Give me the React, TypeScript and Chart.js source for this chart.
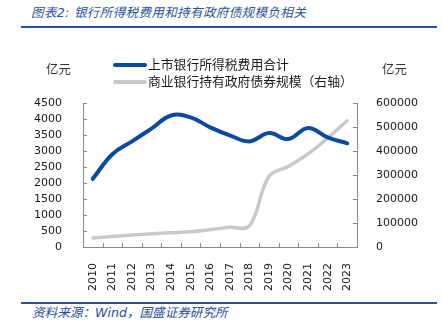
import React, { useEffect, useRef } from "react";
import { Chart, registerables } from "chart.js";

Chart.register(...registerables);

const years = ["2010", "2011", "2012", "2013", "2014", "2015", "2016", "2017", "2018", "2019", "2020", "2021", "2022", "2023"];
const taxExpense = [2130, 2900, 3300, 3700, 4110, 4050, 3740, 3490, 3300, 3560, 3375, 3720, 3425, 3240];
const govBonds = [38000, 44000, 50000, 55000, 59500, 63500, 72000, 82000, 88000, 294000, 336000, 388000, 454000, 526000];
const seriesNames = ["上市银行所得税费用合计", "商业银行持有政府债券规模（右轴）"];
const titleText = "图表2:  银行所得税费用和持有政府债规模负相关";
const sourceText = "资料来源：Wind，国盛证券研究所";
const unitText = "亿元";

const BLUE = "#0b4aa0";
const GRAY = "#c9c9c9";
const AXIS = "#8a8a8a";
const CJK = "'DejaVu Sans', 'Noto Sans CJK SC', sans-serif";

const innerTicks = {
  id: "innerTicks",
  beforeDatasetsDraw(chart: any) {
    const { ctx, chartArea: a, scales } = chart;
    ctx.save();
    ctx.strokeStyle = AXIS;
    ctx.lineWidth = 1;
    const line = (x1: number, y1: number, x2: number, y2: number) => {
      ctx.beginPath();
      ctx.moveTo(x1, y1);
      ctx.lineTo(x2, y2);
      ctx.stroke();
    };
    const y = scales.y;
    y.ticks.forEach((_: any, i: number) => {
      const py = Math.round(y.getPixelForTick(i)) + 0.5;
      line(a.left, py, a.left + 4, py);
    });
    const y1 = scales.y1;
    y1.ticks.forEach((_: any, i: number) => {
      const py = Math.round(y1.getPixelForTick(i)) + 0.5;
      line(a.right - 4, py, a.right, py);
    });
    const n = years.length;
    for (let i = 1; i < n; i++) {
      const px = Math.round(a.left + ((a.right - a.left) * i) / n) + 0.5;
      line(px, a.bottom, px, a.bottom - 4);
    }
    ctx.restore();
  },
};

export default function App() {
  const ref = useRef<HTMLCanvasElement>(null);

  useEffect(() => {
    if (!ref.current) return;
    const tickFont = { family: "'DejaVu Sans', sans-serif", size: 11 };
    const plain = (v: any) => String(v);
    const chart = new Chart(ref.current, {
      type: "line",
      data: {
        labels: years,
        datasets: [
          {
            label: seriesNames[0],
            data: taxExpense,
            yAxisID: "y",
            borderColor: BLUE,
            borderWidth: 4,
            pointRadius: 0,
            tension: 0.4,
            borderCapStyle: "round",
            fill: false,
          },
          {
            label: seriesNames[1],
            data: govBonds,
            yAxisID: "y1",
            borderColor: GRAY,
            borderWidth: 3.5,
            pointRadius: 0,
            tension: 0.4,
            borderCapStyle: "round",
            fill: false,
          },
        ],
      },
      options: {
        responsive: false,
        animation: false,
        layout: { padding: { top: 103, left: 0, right: 0, bottom: 0 } },
        plugins: { legend: { display: false }, tooltip: { enabled: false }, title: { display: false } },
        scales: {
          x: {
            offset: true,
            grid: { display: false },
            border: { display: true, color: AXIS, width: 1 },
            ticks: { font: tickFont, color: "#1a1a1a", padding: 8, minRotation: 90, maxRotation: 90, autoSkip: false },
            afterFit: (s: any) => {
              s.height = 45;
            },
          },
          y: {
            position: "left",
            min: 0,
            max: 4500,
            grid: { display: false },
            border: { display: true, color: AXIS, width: 1 },
            ticks: { stepSize: 500, autoSkip: false, callback: plain, font: tickFont, color: "#1a1a1a", padding: 13 },
            afterFit: (s: any) => {
              s.width = 83;
            },
          },
          y1: {
            position: "right",
            min: 0,
            max: 600000,
            grid: { display: false },
            border: { display: true, color: AXIS, width: 1 },
            ticks: { stepSize: 100000, autoSkip: false, callback: plain, font: tickFont, color: "#1a1a1a", padding: 11 },
            afterFit: (s: any) => {
              s.width = 85;
            },
          },
        },
      },
      plugins: [innerTicks],
    } as any);
    return () => chart.destroy();
  }, []);

  const abs = (o: React.CSSProperties): React.CSSProperties => ({ position: "absolute", ...o });

  return (
    <div style={abs({ left: 0, top: 0, width: 442, height: 333, background: "#fff", overflow: "hidden" })}>
      <div style={abs({ left: 31, top: 4, fontFamily: CJK, fontSize: 12.6, fontStyle: "italic", color: "#2d5596", whiteSpace: "nowrap", lineHeight: "18px", letterSpacing: 0.3 })}>
        {titleText}
      </div>
      <div style={abs({ left: 21, top: 26, width: 416, height: 2, background: "#2456a4" })} />
      <canvas ref={ref} width={442} height={292} style={abs({ left: 0, top: 0, width: 442, height: 292 })} />
      <div style={abs({ left: 46, top: 61, fontFamily: CJK, fontSize: 12.4, color: "#333", lineHeight: "18px" })}>{unitText}</div>
      <div style={abs({ left: 382, top: 61, fontFamily: CJK, fontSize: 12.4, color: "#333", lineHeight: "18px" })}>{unitText}</div>
      <div style={abs({ left: 113, top: 63, width: 34, height: 4, background: BLUE, borderRadius: 2 })} />
      <div style={abs({ left: 148, top: 56, fontFamily: CJK, fontSize: 12.8, color: "#1a1a1a", whiteSpace: "nowrap", lineHeight: "18px" })}>{seriesNames[0]}</div>
      <div style={abs({ left: 113, top: 80, width: 34, height: 4, background: GRAY, borderRadius: 2 })} />
      <div style={abs({ left: 148, top: 73, fontFamily: CJK, fontSize: 12.8, color: "#1a1a1a", whiteSpace: "nowrap", lineHeight: "18px" })}>{seriesNames[1]}</div>
      <div style={abs({ left: 21, top: 302, width: 416, height: 2, background: "#2456a4" })} />
      <div style={abs({ left: 32, top: 304, fontFamily: CJK, fontSize: 12.6, fontStyle: "italic", color: "#1f4e9c", whiteSpace: "nowrap", lineHeight: "18px" })}>
        {sourceText}
      </div>
    </div>
  );
}
